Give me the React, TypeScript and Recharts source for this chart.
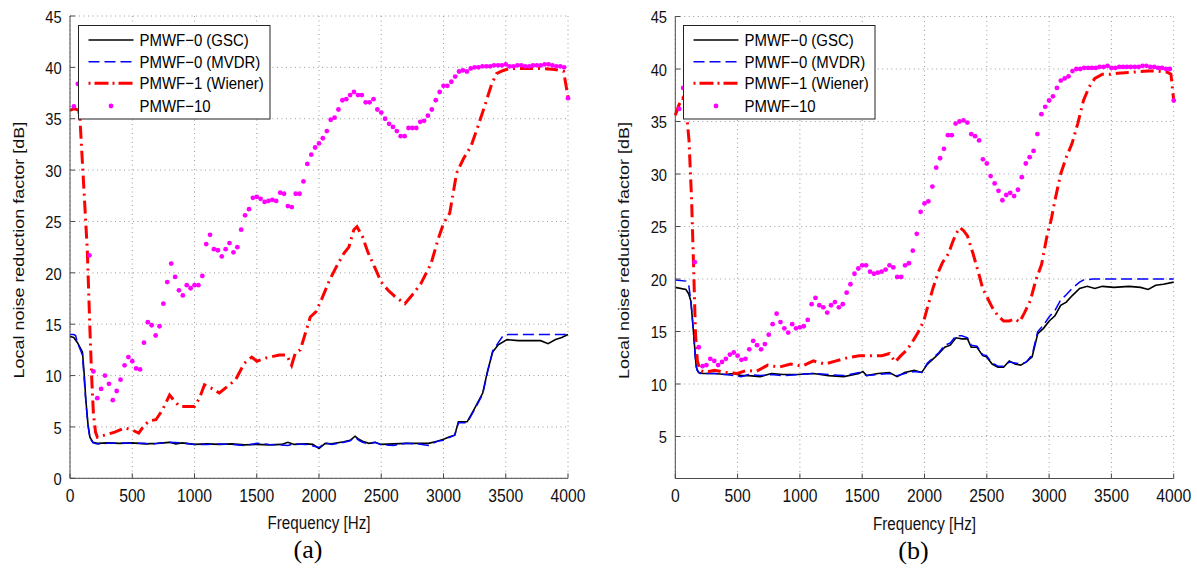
import { CartesianGrid, ComposedChart, Legend, Line, XAxis, YAxis } from 'recharts'

// frequency bins of the PMWF-10 markers (Hz)
const FREQ_BINS = [
  31, 63, 94, 125, 156, 188, 219, 250, 281, 313, 344, 375, 406, 438, 469, 500,
  531, 563, 594, 625, 656, 688, 719, 750, 781, 813, 844, 875, 906, 938, 969, 1000,
  1031, 1063, 1094, 1125, 1156, 1188, 1219, 1250, 1281, 1313, 1344, 1375, 1406, 1438, 1469, 1500,
  1531, 1563, 1594, 1625, 1656, 1688, 1719, 1750, 1781, 1813, 1844, 1875, 1906, 1938, 1969, 2000,
  2031, 2063, 2094, 2125, 2156, 2188, 2219, 2250, 2281, 2313, 2344, 2375, 2406, 2438, 2469, 2500,
  2531, 2563, 2594, 2625, 2656, 2688, 2719, 2750, 2781, 2813, 2844, 2875, 2906, 2938, 2969, 3000,
  3031, 3063, 3094, 3125, 3156, 3188, 3219, 3250, 3281, 3313, 3344, 3375, 3406, 3438, 3469, 3500,
  3531, 3563, 3594, 3625, 3656, 3688, 3719, 3750, 3781, 3813, 3844, 3875, 3906, 3938, 3969, 4000,
]

const PMWF10_A = [
  36.2, 38.4, 40.0, 40.2, 21.7, 10.4, 7.8, 8.7, 10.0, 9.2, 7.6, 8.5, 9.6, 11.0, 11.8, 11.4,
  10.7, 10.6, 13.2, 15.2, 14.9, 13.9, 14.8, 17.0, 19.1, 20.9, 19.6, 18.3, 17.8, 18.8, 18.5, 18.8,
  18.8, 19.7, 22.8, 23.7, 22.3, 22.2, 21.6, 22.3, 22.9, 22.0, 22.5, 24.2, 25.6, 26.2, 27.3, 27.4,
  27.2, 26.9, 27.0, 27.1, 27.0, 27.8, 27.7, 26.5, 26.4, 27.7, 27.7, 28.9, 30.6, 31.5, 32.2, 32.6,
  33.1, 33.8, 34.9, 35.1, 35.9, 36.8, 36.9, 37.3, 37.6, 37.3, 37.3, 36.6, 36.6, 36.9, 35.9, 35.6,
  35.0, 34.5, 34.2, 33.8, 33.3, 33.3, 34.1, 34.1, 34.1, 34.7, 34.8, 35.3, 35.9, 36.8, 37.6, 38.2,
  38.2, 38.6, 39.1, 39.6, 39.7, 39.6, 39.9, 40.0, 40.0, 40.1, 40.1, 40.1, 40.2, 40.2, 40.2, 40.3,
  40.1, 40.1, 40.2, 40.2, 40.1, 40.1, 40.2, 40.2, 40.2, 40.3, 40.3, 40.2, 40.1, 40.1, 40.0, 37.0,
]

const PMWF10_B = [
  36.2, 38.2, 40.0, 40.2, 21.6, 13.5, 11.7, 11.8, 12.4, 12.2, 11.8, 12.1, 12.4, 12.8, 13.0, 12.7,
  12.3, 12.4, 13.3, 14.1, 13.7, 13.3, 13.8, 14.7, 15.7, 16.7, 15.9, 15.3, 14.9, 15.7, 15.3, 15.4,
  15.5, 16.1, 17.6, 18.2, 17.5, 17.3, 16.8, 17.5, 17.8, 17.3, 17.6, 18.7, 19.5, 20.5, 21.0, 21.3,
  21.3, 20.7, 20.5, 20.6, 20.7, 20.9, 21.3, 21.1, 20.2, 20.2, 21.3, 21.5, 22.7, 24.3, 26.4, 27.2,
  27.4, 28.8, 30.6, 31.5, 32.4, 33.7, 33.7, 34.8, 35.0, 35.1, 34.9, 33.8, 33.6, 33.2, 31.4, 31.0,
  29.8, 29.1, 28.4, 27.5, 28.0, 28.2, 27.9, 28.5, 29.7, 31.0, 31.6, 32.2, 33.8, 35.7, 36.4, 37.0,
  37.4, 38.2, 38.9, 39.1, 39.3, 39.8, 40.0, 40.0, 40.1, 40.1, 40.1, 40.1, 40.2, 40.2, 40.3, 40.1,
  40.1, 40.2, 40.2, 40.2, 40.2, 40.2, 40.2, 40.3, 40.3, 40.2, 40.2, 40.1, 40.1, 40.0, 40.0, 37.0,
]

// [Hz, dB] pairs for the line series
type Pair = [number, number]

const GSC_A: Pair[] = [
  [0, 13.8], [30, 13.7], [60, 13.2], [100, 12.3], [115, 10.0], [128, 7.5], [145, 5.2], [160, 4.0],
  [185, 3.5], [220, 3.4], [300, 3.45], [400, 3.4], [500, 3.45], [600, 3.35], [700, 3.4], [800, 3.5],
  [850, 3.35], [900, 3.45], [1000, 3.3], [1100, 3.35], [1200, 3.3], [1300, 3.35], [1400, 3.25],
  [1500, 3.3], [1600, 3.25], [1700, 3.3], [1750, 3.5], [1800, 3.3], [1900, 3.35], [1950, 3.3],
  [2000, 2.9], [2050, 3.4], [2100, 3.35], [2200, 3.55], [2250, 3.7], [2290, 4.1], [2320, 3.8],
  [2350, 3.6], [2400, 3.4], [2450, 3.5], [2500, 3.3], [2600, 3.35], [2700, 3.4], [2800, 3.4],
  [2880, 3.4], [2950, 3.6], [3000, 3.8], [3050, 4.05], [3090, 4.2], [3120, 5.5], [3190, 5.5],
  [3250, 6.8], [3315, 8.3], [3355, 10.5], [3395, 12.3], [3440, 13.0], [3510, 13.5], [3600, 13.4],
  [3700, 13.4], [3780, 13.4], [3840, 13.1], [3900, 13.5], [3950, 13.7], [4000, 14.0],
]

const MVDR_A: Pair[] = [
  [0, 14.0], [30, 14.0], [45, 13.9], [60, 13.2], [100, 12.0], [115, 9.5], [128, 7.3], [145, 5.1],
  [160, 3.9], [185, 3.45], [220, 3.35], [300, 3.4], [400, 3.45], [500, 3.4], [600, 3.4], [650, 3.3],
  [700, 3.4], [800, 3.5], [900, 3.45], [1000, 3.3], [1100, 3.3], [1200, 3.35], [1300, 3.3],
  [1400, 3.2], [1500, 3.4], [1600, 3.3], [1700, 3.25], [1750, 3.2], [1800, 3.35], [1900, 3.3],
  [2000, 3.0], [2050, 3.45], [2100, 3.3], [2200, 3.5], [2250, 3.65], [2290, 4.0], [2320, 3.7],
  [2350, 3.5], [2400, 3.35], [2450, 3.5], [2500, 3.25], [2600, 3.2], [2700, 3.4], [2800, 3.35],
  [2880, 3.2], [2950, 3.6], [3000, 3.7], [3050, 4.0], [3090, 4.2], [3120, 5.4], [3190, 5.4],
  [3250, 6.7], [3315, 8.2], [3355, 10.4], [3395, 12.4], [3440, 13.2], [3480, 13.9], [3520, 14.0],
  [3600, 14.0], [3800, 14.0], [4000, 14.0],
]

const WIENER_A: Pair[] = [
  [0, 35.8], [35, 36.0], [70, 35.8], [80, 35.0], [110, 28.5], [139, 22.2], [160, 14.5], [175, 9.6],
  [188, 6.3], [205, 4.5], [220, 4.0], [276, 4.2], [359, 4.5], [442, 4.9], [500, 4.7], [552, 4.4],
  [600, 5.2], [640, 5.6], [690, 5.7], [740, 6.6], [800, 8.1], [840, 7.5], [880, 7.0], [930, 7.0],
  [1000, 7.0], [1040, 7.8], [1080, 9.1], [1130, 8.8], [1200, 8.3], [1260, 8.9], [1330, 9.6],
  [1400, 11.2], [1460, 11.8], [1500, 11.4], [1570, 11.7], [1680, 12.0], [1740, 12.0], [1780, 11.0],
  [1810, 12.2], [1850, 12.5], [1890, 14.1], [1930, 15.7], [1975, 16.2], [2020, 17.4], [2085, 19.3],
  [2140, 20.6], [2200, 21.9], [2240, 22.5], [2280, 24.2], [2305, 24.5], [2350, 23.5], [2390, 22.1],
  [2445, 20.6], [2500, 19.1], [2555, 18.3], [2610, 17.7], [2690, 17.0], [2760, 18.0], [2820, 19.0],
  [2900, 20.9], [2955, 23.2], [3000, 24.8], [3050, 25.8], [3105, 29.7], [3160, 31.1], [3220, 32.3],
  [3275, 34.2], [3330, 36.2], [3385, 38.3], [3425, 39.4], [3480, 39.7], [3535, 39.9], [3600, 39.9],
  [3700, 39.9], [3785, 39.9], [3895, 39.8], [3965, 39.6], [4000, 37.1],
]

const GSC_B: Pair[] = [
  [0, 19.2], [85, 19.0], [107, 18.6], [125, 17.9], [147, 14.8], [168, 11.6], [186, 11.1], [223, 11.0],
  [314, 11.0], [400, 10.9], [467, 11.0], [530, 10.8], [589, 10.8], [681, 10.7], [772, 11.0],
  [864, 10.9], [986, 10.9], [1108, 11.0], [1230, 10.8], [1353, 10.7], [1475, 11.0], [1505, 11.2],
  [1536, 10.8], [1627, 11.0], [1719, 11.1], [1780, 10.7], [1841, 11.1], [1917, 11.3], [1978, 11.1],
  [2024, 11.9], [2070, 12.4], [2116, 12.9], [2162, 13.5], [2207, 13.7], [2253, 14.4], [2299, 14.3],
  [2345, 14.3], [2375, 13.5], [2421, 13.5], [2467, 12.7], [2497, 12.6], [2543, 11.9], [2589, 11.6],
  [2635, 11.6], [2680, 12.2], [2726, 11.9], [2772, 11.8], [2818, 12.1], [2864, 12.6], [2909, 14.8],
  [2955, 15.3], [3001, 16.0], [3047, 16.5], [3093, 17.5], [3138, 17.8], [3184, 18.4], [3245, 19.1],
  [3306, 19.3], [3367, 19.1], [3428, 19.3], [3520, 19.2], [3642, 19.3], [3734, 19.2], [3795, 19.0],
  [3856, 19.4], [3917, 19.5], [4000, 19.7],
]

const MVDR_B: Pair[] = [
  [0, 19.9], [85, 19.8], [107, 19.5], [125, 17.9], [147, 14.8], [160, 12.5], [175, 11.3], [200, 11.0],
  [314, 11.0], [400, 10.9], [467, 10.8], [530, 10.7], [589, 10.9], [681, 10.8], [772, 10.9],
  [864, 10.8], [986, 10.9], [1108, 11.0], [1230, 10.9], [1353, 10.8], [1475, 11.1], [1536, 10.8],
  [1627, 10.9], [1719, 11.0], [1780, 10.8], [1841, 11.0], [1917, 11.2], [1978, 11.1], [2024, 12.0],
  [2070, 12.5], [2116, 13.0], [2162, 13.7], [2207, 13.9], [2253, 14.6], [2299, 14.6], [2345, 14.4],
  [2375, 13.7], [2421, 13.6], [2467, 12.8], [2497, 12.7], [2543, 12.0], [2589, 11.7], [2635, 11.7],
  [2680, 12.1], [2726, 12.0], [2772, 11.9], [2818, 12.1], [2864, 12.8], [2909, 15.0], [2955, 15.6],
  [3001, 16.4], [3047, 17.0], [3093, 18.0], [3138, 18.5], [3184, 19.1], [3245, 19.7], [3276, 19.9],
  [3350, 20.0], [3600, 20.0], [3800, 20.0], [4000, 20.0],
]

const WIENER_B: Pair[] = [
  [0, 35.6], [30, 36.6], [60, 37.2], [90, 35.8], [110, 33.2], [131, 27.5], [147, 21.1], [162, 14.8],
  [177, 12.2], [198, 11.3], [238, 11.1], [314, 11.3], [406, 11.1], [498, 11.0], [574, 11.3],
  [650, 11.2], [742, 11.8], [833, 11.6], [925, 11.9], [1017, 11.7], [1108, 12.2], [1200, 11.9],
  [1291, 12.2], [1383, 12.5], [1475, 12.7], [1566, 12.7], [1658, 12.7], [1719, 12.9], [1765, 12.1],
  [1810, 12.7], [1856, 13.2], [1902, 14.0], [1948, 14.9], [1994, 16.0], [2024, 17.3], [2070, 19.2],
  [2116, 20.8], [2146, 21.6], [2192, 22.4], [2222, 23.4], [2253, 24.3], [2284, 24.9], [2314, 24.6],
  [2345, 24.1], [2390, 22.4], [2436, 20.5], [2467, 19.1], [2497, 18.4], [2543, 17.3], [2589, 16.5],
  [2635, 16.0], [2680, 16.0], [2726, 16.2], [2763, 15.9], [2803, 16.8], [2848, 17.9], [2894, 19.9],
  [2940, 21.4], [2986, 24.3], [3016, 25.6], [3047, 27.5], [3093, 30.0], [3138, 31.6], [3184, 32.9],
  [3230, 34.8], [3276, 37.0], [3322, 38.3], [3367, 39.1], [3428, 39.5], [3490, 39.5], [3551, 39.6],
  [3673, 39.7], [3795, 39.8], [3871, 39.8], [3948, 39.7], [3978, 39.5], [4000, 37.0],
]

const X_TICKS = [0, 500, 1000, 1500, 2000, 2500, 3000, 3500, 4000]
const Y_TICKS_A = [0, 5, 10, 15, 20, 25, 30, 35, 40, 45]
const Y_TICKS_B = [5, 10, 15, 20, 25, 30, 35, 40, 45]

const SERIES_NAMES = ['PMWF\u22120 (GSC)', 'PMWF\u22120 (MVDR)', 'PMWF\u22121 (Wiener)', 'PMWF\u221210']

const FONT = '"Liberation Sans", Arial, Helvetica, sans-serif'
const FRAME = '#4a4a4a'
const TICK_LEN = 5
const Y_AXIS_W = 60
const X_AXIS_H = 40
const CHART_H = 575

interface Pt {
  x: number
  y: number
}

const fromPairs = (pairs: Pair[]): Pt[] => pairs.map(([x, y]) => ({ x, y }))
const fromBins = (values: number[]): Pt[] => FREQ_BINS.map((x, i) => ({ x, y: values[i] }))

function BottomTick(props: any) {
  const { x, y, payload } = props
  return (
    <g>
      <line x1={x} y1={y} x2={x} y2={y - TICK_LEN} stroke={FRAME} />
      <text
        transform={`translate(${x},${y + 23.3}) scale(0.85,1)`}
        textAnchor="middle"
        fontFamily={FONT}
        fontSize={18.5}
        fill="#111"
      >
        {payload.value}
      </text>
    </g>
  )
}

function LeftTick(props: any) {
  const { x, y, payload } = props
  return (
    <g>
      <line x1={x} y1={y} x2={x + TICK_LEN} y2={y} stroke={FRAME} />
      <text
        transform={`translate(${x - 8.3},${y + 6.7}) scale(0.92,1)`}
        textAnchor="end"
        fontFamily={FONT}
        fontSize={16}
        fill="#111"
      >
        {payload.value}
      </text>
    </g>
  )
}

function TopTick(props: any) {
  const { x, y } = props
  return <line x1={x} y1={y} x2={x} y2={y + TICK_LEN} stroke={FRAME} />
}

function RightTick(props: any) {
  const { x, y } = props
  return <line x1={x} y1={y} x2={x - TICK_LEN} y2={y} stroke={FRAME} />
}

function LegendBox() {
  const rows = [15, 36.7, 58.3, 81]
  const textX = 61.5
  return (
    <svg width={193} height={95} style={{ display: 'block' }}>
      <rect x={0.5} y={0.5} width={191.5} height={93.5} fill="#fff" stroke="#222" strokeWidth={1} />
      <line x1={10.5} y1={rows[0]} x2={55.5} y2={rows[0]} stroke="#000" strokeWidth={1.6} />
      <line x1={10.5} y1={rows[1]} x2={55.5} y2={rows[1]} stroke="#0000ff" strokeWidth={1.5} strokeDasharray="11 5" />
      <line
        x1={10.5}
        y1={rows[2]}
        x2={55.5}
        y2={rows[2]}
        stroke="#ff0000"
        strokeWidth={3}
        strokeDasharray="2 4 14 4"
      />
      <circle cx={33} cy={rows[3]} r={2.4} fill="#ff00ff" />
      {SERIES_NAMES.map((name, i) => (
        <text
          key={name}
          transform={`translate(${textX},${rows[i] + 6}) scale(0.88,1)`}
          fontFamily={FONT}
          fontSize={17}
          fill="#000"
        >
          {name}
        </text>
      ))}
    </svg>
  )
}

interface PanelProps {
  left: number
  width: number
  plotLeft: number
  plotRight: number
  plotTop: number
  plotBottom: number
  yDomain: [number, number]
  yTicks: number[]
  caption: string
  gsc: Pt[]
  mvdr: Pt[]
  wiener: Pt[]
  pmwf10: Pt[]
}

function Panel(p: PanelProps) {
  const plotW = p.plotRight - p.plotLeft
  const plotH = p.plotBottom - p.plotTop

  const xLabel = (props: any) => {
    const vb = props.viewBox ?? {}
    const cx = (vb.x ?? p.plotLeft) + (vb.width ?? plotW) / 2
    const top = vb.y ?? p.plotBottom
    return (
      <g>
        <text
          transform={`translate(${cx},${top + 51}) scale(0.8,1)`}
          textAnchor="middle"
          fontFamily={FONT}
          fontSize={19}
          fill="#111"
        >
          Frequency [Hz]
        </text>
        <text
          x={cx - 11}
          y={top + 80}
          textAnchor="middle"
          fontFamily='"Liberation Serif", "Times New Roman", serif'
          fontSize={26}
          fill="#000"
        >
          {p.caption}
        </text>
      </g>
    )
  }

  const yLabel = (props: any) => {
    const vb = props.viewBox ?? {}
    const axisX = vb.x !== undefined ? vb.x + vb.width : p.plotLeft
    const cy = (vb.y ?? p.plotTop) + (vb.height ?? plotH) / 2 + 3
    return (
      <text
        transform={`translate(${axisX - 51.5},${cy}) scale(0.82,1) rotate(-90)`}
        textAnchor="middle"
        dominantBaseline="central"
        fontFamily={FONT}
        fontSize={18}
        fill="#111"
      >
        Local noise reduction factor [dB]
      </text>
    )
  }

  return (
    <div style={{ position: 'absolute', left: p.left, top: 0, width: p.width, height: CHART_H }}>
      <ComposedChart
        width={p.width}
        height={CHART_H}
        margin={{
          top: p.plotTop,
          right: p.width - p.plotRight,
          bottom: CHART_H - p.plotBottom - X_AXIS_H,
          left: p.plotLeft - Y_AXIS_W,
        }}
      >
        <CartesianGrid stroke="#9a9a9a" strokeDasharray="1 3.5" />
        <XAxis
          dataKey="x"
          type="number"
          domain={[0, 4000]}
          ticks={X_TICKS}
          interval={0}
          height={X_AXIS_H}
          tickSize={0}
          tickMargin={0}
          tickLine={false}
          axisLine={{ stroke: FRAME }}
          tick={<BottomTick />}
          label={xLabel}
        />
        <YAxis
          type="number"
          domain={p.yDomain}
          ticks={p.yTicks}
          interval={0}
          width={Y_AXIS_W}
          tickSize={0}
          tickMargin={0}
          tickLine={false}
          axisLine={{ stroke: FRAME }}
          tick={<LeftTick />}
          label={yLabel}
        />
        <XAxis
          xAxisId="top"
          orientation="top"
          type="number"
          domain={[0, 4000]}
          allowDataOverflow
          ticks={X_TICKS}
          interval={0}
          height={0}
          tickSize={0}
          tickMargin={0}
          tickLine={false}
          axisLine={{ stroke: FRAME }}
          tick={<TopTick />}
        />
        <YAxis
          yAxisId="right"
          orientation="right"
          type="number"
          domain={p.yDomain}
          allowDataOverflow
          ticks={p.yTicks}
          interval={0}
          width={0}
          tickSize={0}
          tickMargin={0}
          tickLine={false}
          axisLine={{ stroke: FRAME }}
          tick={<RightTick />}
        />
        <Line
          data={p.gsc}
          dataKey="y"
          name={SERIES_NAMES[0]}
          stroke="#000"
          strokeWidth={1.6}
          dot={false}
          isAnimationActive={false}
        />
        <Line
          data={p.mvdr}
          dataKey="y"
          name={SERIES_NAMES[1]}
          stroke="#0000ff"
          strokeWidth={1.5}
          strokeDasharray="11 5"
          dot={false}
          isAnimationActive={false}
        />
        <Line
          data={p.wiener}
          dataKey="y"
          name={SERIES_NAMES[2]}
          stroke="#ff0000"
          strokeWidth={3}
          strokeDasharray="13 5 2 5"
          dot={false}
          isAnimationActive={false}
        />
        <Line
          data={p.pmwf10}
          dataKey="y"
          name={SERIES_NAMES[3]}
          stroke="none"
          dot={{ r: 2.4, fill: '#ff00ff', stroke: 'none' }}
          isAnimationActive={false}
        />
        <Legend
          layout="horizontal"
          verticalAlign="middle"
          align="center"
          content={() => <LegendBox />}
          wrapperStyle={{ left: p.plotLeft + 7.5, top: 25, width: 193, height: 95 }}
        />
      </ComposedChart>
    </div>
  )
}

export default function App() {
  return (
    <div
      style={{
        position: 'absolute',
        left: 0,
        top: 0,
        width: 1197,
        height: 575,
        background: '#fff',
        overflow: 'hidden',
      }}
    >
      <Panel
        left={0}
        width={600}
        plotLeft={70}
        plotRight={568}
        plotTop={16}
        plotBottom={478.3}
        yDomain={[0, 45]}
        yTicks={Y_TICKS_A}
        caption="(a)"
        gsc={fromPairs(GSC_A)}
        mvdr={fromPairs(MVDR_A)}
        wiener={fromPairs(WIENER_A)}
        pmwf10={fromBins(PMWF10_A)}
      />
      <Panel
        left={600}
        width={597}
        plotLeft={75.3}
        plotRight={573.7}
        plotTop={16.5}
        plotBottom={478.5}
        yDomain={[1, 45]}
        yTicks={Y_TICKS_B}
        caption="(b)"
        gsc={fromPairs(GSC_B)}
        mvdr={fromPairs(MVDR_B)}
        wiener={fromPairs(WIENER_B)}
        pmwf10={fromBins(PMWF10_B)}
      />
    </div>
  )
}
